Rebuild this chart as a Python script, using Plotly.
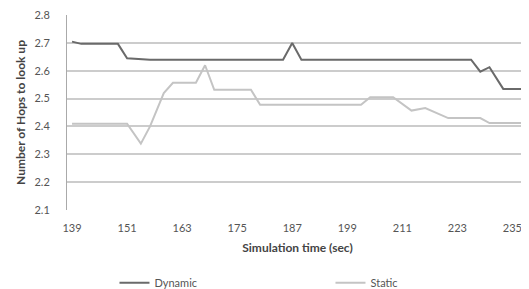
import plotly.graph_objects as go

# Breakpoints (time in seconds, value = hops)
dynamic_time = [139, 141, 149, 151, 156, 185, 187, 189, 226, 228, 230, 233, 238]
dynamic_hops = [2.705, 2.697, 2.697, 2.645, 2.64, 2.64, 2.70, 2.64, 2.64, 2.597, 2.613, 2.535, 2.535]

static_time = [139, 151, 154, 156, 159, 161, 166, 168, 170, 178, 180, 202, 204, 209, 213, 216, 221, 228, 230, 238]
static_hops = [2.41, 2.41, 2.338, 2.40, 2.52, 2.557, 2.557, 2.62, 2.532, 2.532, 2.478, 2.478, 2.505, 2.505,
               2.457, 2.466, 2.43, 2.43, 2.412, 2.412]

x_ticks = [139, 151, 163, 175, 187, 199, 211, 223, 235]
y_ticks = [2.1, 2.2, 2.3, 2.4, 2.5, 2.6, 2.7, 2.8]

FONT = "Lato, 'Open Sans', sans-serif"

fig = go.Figure()
fig.add_trace(go.Scatter(x=dynamic_time, y=dynamic_hops, mode="lines", name="Dynamic",
                         line=dict(color="#6a6a6a", width=2)))
fig.add_trace(go.Scatter(x=static_time, y=static_hops, mode="lines", name="Static",
                         line=dict(color="#c4c4c4", width=2)))

# page body adds an 8px offset, so the figure is sized to fill the rest of the window
fig.update_layout(
    width=521, height=281,
    margin=dict(l=59, r=1, t=7, b=79, autoexpand=False),
    paper_bgcolor="white", plot_bgcolor="white",
    font=dict(family=FONT, size=11, color="#555555"),
    showlegend=True,
    legend=dict(orientation="h", x=0.103, xanchor="left", y=-0.373, yanchor="middle",
                font=dict(family=FONT, size=11, color="#555555"),
                itemwidth=30, entrywidth=171, bgcolor="rgba(0,0,0,0)"),
)
fig.update_xaxes(
    range=[137.9, 238.4], tickmode="array", tickvals=x_ticks,
    ticktext=[str(v) for v in x_ticks],
    showgrid=False, zeroline=False, showline=False, ticks="",
    ticklabelstandoff=10, automargin=False,
    tickfont=dict(size=11, color="#555555"),
    title=dict(text="<b>Simulation time (sec)</b>", standoff=10,
               font=dict(size=12, color="#444444")),
)
fig.update_yaxes(
    range=[2.0995, 2.8008], tickmode="array", tickvals=y_ticks,
    ticktext=[f"{v:.1f}" for v in y_ticks],
    showgrid=True, gridcolor="#cccccc", gridwidth=1.5,
    zeroline=False, showline=True, linecolor="#aaaaaa", linewidth=1,
    ticks="", ticklabelstandoff=14, automargin=False,
    tickfont=dict(size=11, color="#555555"),
    title=dict(text="<b>Number of Hops to look up</b>", standoff=6,
               font=dict(size=12, color="#444444")),
)

fig.write_html("out.html")
